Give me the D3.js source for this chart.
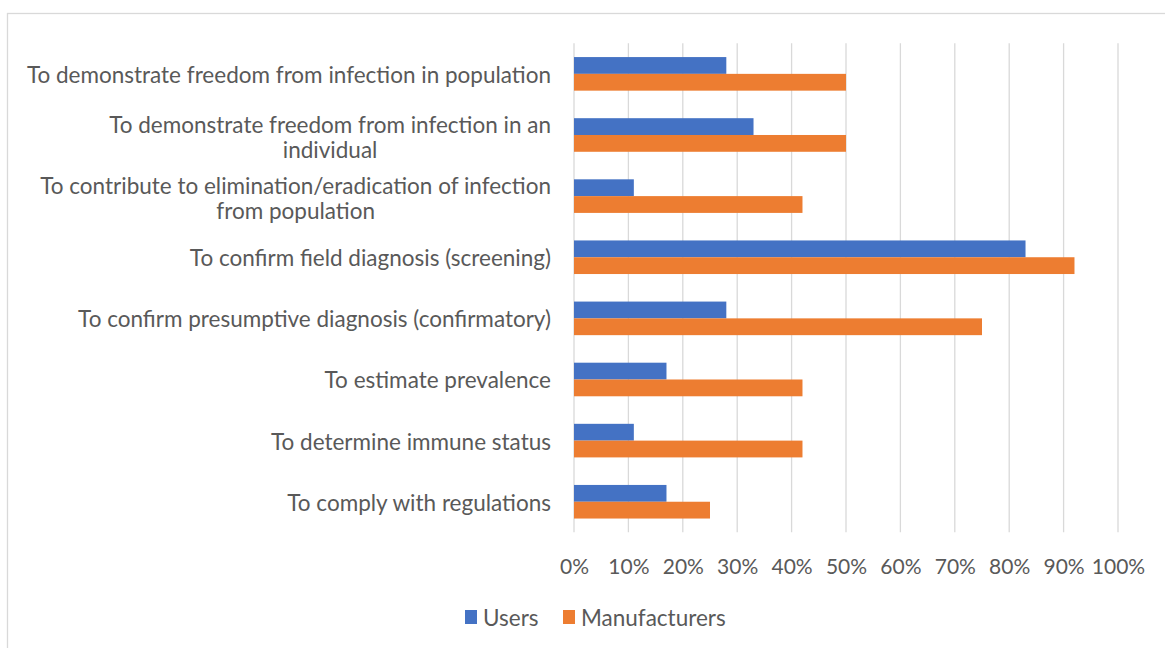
<!DOCTYPE html>
<html>
<head>
<meta charset="utf-8">
<script src="https://cdn.jsdelivr.net/npm/d3@7"></script>
<style>
  html, body { margin: 0; padding: 0; background: #ffffff; }
  svg { display: block; }
  text { font-family: Lato, "Open Sans", "Liberation Sans", sans-serif; fill: #595959; }
</style>
</head>
<body>
<svg id="chart" width="1165" height="648"></svg>
<script>
// ---- data ----
const categories = [
  "To demonstrate freedom from infection in population",
  "To demonstrate freedom from infection in an individual",
  "To contribute to elimination/eradication of infection from population",
  "To confirm field diagnosis (screening)",
  "To confirm presumptive diagnosis (confirmatory)",
  "To estimate prevalence",
  "To determine immune status",
  "To comply with regulations"
];
const categoryLines = [
  ["To demonstrate freedom from infection in population"],
  ["To demonstrate freedom from infection in an", "individual"],
  ["To contribute to elimination/eradication of infection", "from population"],
  ["To confirm field diagnosis (screening)"],
  ["To confirm presumptive diagnosis (confirmatory)"],
  ["To estimate prevalence"],
  ["To determine immune status"],
  ["To comply with regulations"]
];
const seriesNames = ["Users", "Manufacturers"];
const usersValues = [0.28, 0.33, 0.11, 0.83, 0.28, 0.17, 0.11, 0.17];
const manufacturersValues = [0.50, 0.50, 0.42, 0.92, 0.75, 0.42, 0.42, 0.25];
const xTicks = [0, 0.1, 0.2, 0.3, 0.4, 0.5, 0.6, 0.7, 0.8, 0.9, 1.0];
const colors = ["#4472C4", "#ED7D31"];

const seriesValues = [usersValues, manufacturersValues];

// ---- layout ----
const svg = d3.select("#chart");
const plot = { left: 574, right: 1118, top: 43.3, bottom: 532.3 };
const fontSize = 22.5;
const tickFontSize = 21;

// outer chart frame
svg.append("rect")
  .attr("x", 7.5).attr("y", 13.5)
  .attr("width", 1165).attr("height", 700)
  .attr("fill", "#ffffff")
  .attr("stroke", "#d9d9d9").attr("stroke-width", 1.3);

const x = d3.scaleLinear().domain([0, 1]).range([plot.left, plot.right]);
const y = d3.scaleBand().domain(categories).range([plot.top, plot.bottom]).paddingInner(0).paddingOuter(0);
const y1 = d3.scaleBand().domain(seriesNames).range([0, y.bandwidth()]).paddingInner(0).paddingOuter(0.82);

// gridlines
svg.append("g").selectAll("line").data(xTicks).join("line")
  .attr("x1", d => x(d)).attr("x2", d => x(d))
  .attr("y1", plot.top).attr("y2", plot.bottom)
  .attr("stroke", "#d9d9d9").attr("stroke-width", 1.3);

// bars
const groups = svg.append("g").selectAll("g").data(categories).join("g")
  .attr("transform", d => `translate(0,${y(d)})`);
groups.selectAll("rect")
  .data((c, i) => seriesNames.map((s, j) => ({ s, v: seriesValues[j][i], j })))
  .join("rect")
  .attr("x", x(0))
  .attr("y", d => y1(d.s))
  .attr("width", d => x(d.v) - x(0))
  .attr("height", y1.bandwidth())
  .attr("fill", d => colors[d.j]);

// category labels (multi-line labels centered within a right-aligned block)
const labelRight = 551;
const lineH = 25;
const lab = svg.append("g");
categories.forEach((c, i) => {
  const lines = categoryLines[i];
  const cy = y(c) + y.bandwidth() / 2 + (lines.length > 1 ? 1.5 : 0);
  const t = lab.append("text")
    .attr("font-size", fontSize)
    .attr("dominant-baseline", "central");
  const spans = lines.map((ln, k) => t.append("tspan")
    .attr("y", cy + (k - (lines.length - 1) / 2) * lineH)
    .text(ln));
  if (lines.length === 1) {
    t.attr("text-anchor", "end");
    spans[0].attr("x", labelRight);
  } else {
    const widths = spans.map(sp => sp.node().getComputedTextLength());
    const maxW = d3.max(widths);
    t.attr("text-anchor", "middle");
    spans.forEach(sp => sp.attr("x", labelRight - maxW / 2));
  }
});

// x axis tick labels
const xAxis = d3.axisBottom(x).tickValues(xTicks).tickSize(0).tickPadding(0)
  .tickFormat(d3.format(".0%"));
const gx = svg.append("g").attr("transform", `translate(0,${565})`).call(xAxis);
gx.select(".domain").remove();
gx.selectAll("text")
  .attr("font-size", tickFontSize)
  .attr("font-family", "Lato, 'Open Sans', sans-serif")
  .attr("fill", "#595959")
  .attr("dy", null)
  .attr("y", 0)
  .attr("dominant-baseline", "central");

// legend
const legend = svg.append("g").attr("transform", "translate(465,617)");
const legendX = [0, 98];
seriesNames.forEach((s, j) => {
  const g = legend.append("g").attr("transform", `translate(${legendX[j]},0)`);
  g.append("rect").attr("x", 0).attr("y", -7).attr("width", 12).attr("height", 14).attr("fill", colors[j]);
  g.append("text").attr("x", 18).attr("y", 0)
    .attr("dominant-baseline", "central")
    .attr("font-size", fontSize)
    .text(s);
});
</script>
</body>
</html>
